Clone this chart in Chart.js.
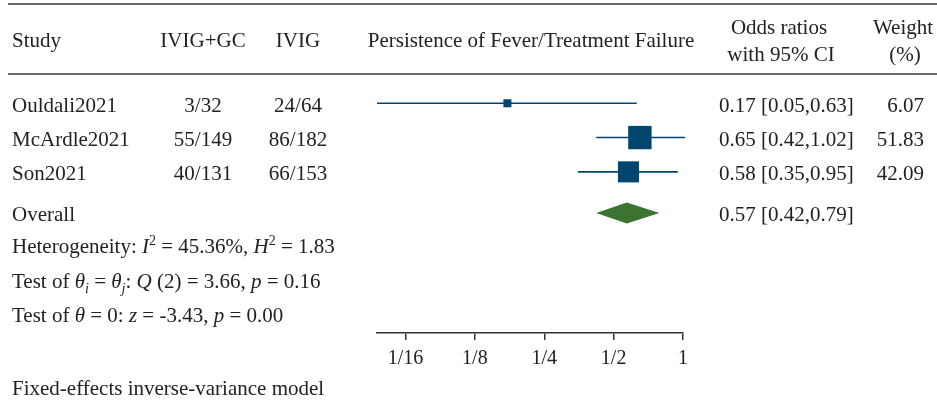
<!DOCTYPE html>
<html>
<head>
<meta charset="utf-8">
<script src="https://cdn.jsdelivr.net/npm/chart.js@4.4.1/dist/chart.umd.min.js"></script>
<style>
  html, body { margin: 0; padding: 0; background: #fff; }
</style>
</head>
<body>
<canvas id="forest" width="937" height="406"></canvas>
<script>
// study data
const studies = ['Ouldali2021', 'McArdle2021', 'Son2021']
const gcEvents = [3, 55, 40]
const gcTotal = [32, 149, 131]
const ivigEvents = [24, 86, 66]
const ivigTotal = [64, 182, 153]
const oddsRatio = [0.173, 0.65, 0.58]
const ciLow = [0.047, 0.42, 0.35]
const ciHigh = [0.63, 1.02, 0.95]
const weights = [6.07, 51.83, 42.09]
const overall = [0.57, 0.42, 0.79] // OR, low, high
const tickValues = [1/16, 1/8, 1/4, 1/2, 1]
const tickLabels = ['1/16', '1/8', '1/4', '1/2', '1']
// summary stats
const i2 = 45.36, h2 = 1.83
const qDf = 2, qStat = 3.66, qP = 0.16
const zStat = -3.43, zP = 0.00

const BLUE = '#00466e'
const GREEN = '#3a7430'
const INK = '#222'
const FAM = '"Liberation Serif", "Times New Roman", serif'
const font = (style, size) => `${style} ${size}px ${FAM}`

const overallRow = studies.length + 0.2

function rich(ctx, parts, x, y) {
  parts.forEach(([t, k]) => {
    let size = 21, dy = 0, style = ''
    if (k.includes('i')) style = 'italic'
    if (k.includes('^')) { size = 14; dy = -8 }
    if (k.includes('_')) { size = 14; dy = 5 }
    ctx.font = font(style, size)
    ctx.fillText(t, x, y + dy)
    x += ctx.measureText(t).width
  })
}

const tablePlugin = {
  id: 'table',
  afterDraw(chart) {
    const ctx = chart.ctx
    const ys = chart.scales.y
    const xs = chart.scales.x
    ctx.save()

    // overall diamond
    const yc = ys.getPixelForValue(overallRow)
    ctx.fillStyle = GREEN
    ctx.beginPath()
    ctx.moveTo(xs.getPixelForValue(overall[1]), yc)
    ctx.lineTo(xs.getPixelForValue(overall[0]), yc - 10.5)
    ctx.lineTo(xs.getPixelForValue(overall[2]), yc)
    ctx.lineTo(xs.getPixelForValue(overall[0]), yc + 10.5)
    ctx.closePath()
    ctx.fill()

    // rules
    ctx.strokeStyle = '#3a3a3a'
    ctx.lineWidth = 1.5
    ctx.beginPath()
    ctx.moveTo(8, 4); ctx.lineTo(937, 4)
    ctx.moveTo(8, 74); ctx.lineTo(937, 74)
    ctx.stroke()

    ctx.fillStyle = INK
    ctx.font = font('', 21)
    ctx.textBaseline = 'alphabetic'

    // header
    ctx.textAlign = 'left'
    ctx.fillText('Study', 12, 47)
    ctx.textAlign = 'center'
    ctx.fillText('IVIG+GC', 203, 47)
    ctx.fillText('IVIG', 298, 47)
    ctx.fillText('Persistence of Fever/Treatment Failure', 531, 47)
    ctx.fillText('Odds ratios', 779, 34)
    ctx.fillText('with 95% CI', 781, 61)
    ctx.fillText('Weight', 903, 34)
    ctx.fillText('(%)', 905, 61)

    // study rows
    studies.forEach((s, i) => {
      const y = ys.getPixelForValue(i) + 8.5
      ctx.textAlign = 'left'
      ctx.fillText(s, 12, y)
      ctx.textAlign = 'center'
      ctx.fillText(gcEvents[i] + '/' + gcTotal[i], 203, y)
      ctx.fillText(ivigEvents[i] + '/' + ivigTotal[i], 298, y)
      ctx.textAlign = 'left'
      ctx.fillText(oddsRatio[i].toFixed(2) + ' [' + ciLow[i].toFixed(2) + ',' + ciHigh[i].toFixed(2) + ']', 719, y)
      ctx.textAlign = 'right'
      ctx.fillText(weights[i].toFixed(2), 924, y)
    })
    const yo = yc + 7.5
    ctx.textAlign = 'left'
    ctx.fillText('Overall', 12, yo)
    ctx.fillText(overall[0].toFixed(2) + ' [' + overall[1].toFixed(2) + ',' + overall[2].toFixed(2) + ']', 719, yo)

    // stats
    rich(ctx, [['Heterogeneity: ', ''], ['I', 'i'], ['2', '^'], [' = ' + i2.toFixed(2) + '%, ', ''],
      ['H', 'i'], ['2', '^'], [' = ' + h2.toFixed(2), '']], 12, 253)
    rich(ctx, [['Test of ', ''], ['θ', 'i'], ['i', 'i_'], [' = ', ''], ['θ', 'i'], ['j', 'i_'], [': ', ''],
      ['Q', 'i'], [' (' + qDf + ') = ' + qStat.toFixed(2) + ', ', ''], ['p', 'i'], [' = ' + qP.toFixed(2), '']], 12, 288)
    rich(ctx, [['Test of ', ''], ['θ', 'i'], [' = 0: ', ''], ['z', 'i'], [' = ' + zStat.toFixed(2) + ', ', ''],
      ['p', 'i'], [' = ' + zP.toFixed(2), '']], 12, 322)
    ctx.font = font('', 21)
    ctx.fillText('Fixed-effects inverse-variance model', 12, 395)
    ctx.restore()
  }
}

const boxes = {
  data: studies.map((s, i) => ({x: oddsRatio[i], y: i})),
  pointStyle: 'rect',
  pointRadius: weights.map(w => 3.25 * Math.sqrt(w) / Math.SQRT2),
  backgroundColor: BLUE,
  borderColor: BLUE,
  borderWidth: 0
}
const ciLines = studies.map((s, i) => ({
  data: [{x: ciLow[i], y: i}, {x: ciHigh[i], y: i}],
  showLine: true,
  borderColor: BLUE,
  borderWidth: 1.6,
  pointRadius: 0,
  clip: false
}))

new Chart(document.getElementById('forest'), {
  type: 'scatter',
  data: { datasets: [boxes, ...ciLines] },
  options: {
    responsive: false,
    animation: false,
    events: [],
    layout: { padding: { left: 377, right: 254, top: 69, bottom: 0 } },
    plugins: { legend: { display: false }, tooltip: { enabled: false } },
    scales: {
      x: {
        type: 'logarithmic',
        min: 0.047,
        max: 1,
        afterBuildTicks: s => { s.ticks = tickValues.map(v => ({value: v})) },
        afterFit: s => { s.height = 73 },
        grid: { drawOnChartArea: false, drawTicks: true, tickLength: 7, color: '#333', lineWidth: 1.5 },
        border: { color: '#333', width: 1.5 },
        ticks: {
          callback: (v, i) => tickLabels[i],
          autoSkip: false,
          maxRotation: 0,
          padding: 7,
          color: INK,
          font: { family: FAM, size: 20 }
        }
      },
      y: {
        type: 'linear',
        reverse: true,
        min: -1,
        max: 6.7,
        display: false
      }
    }
  },
  plugins: [tablePlugin]
})
</script>
</body>
</html>
